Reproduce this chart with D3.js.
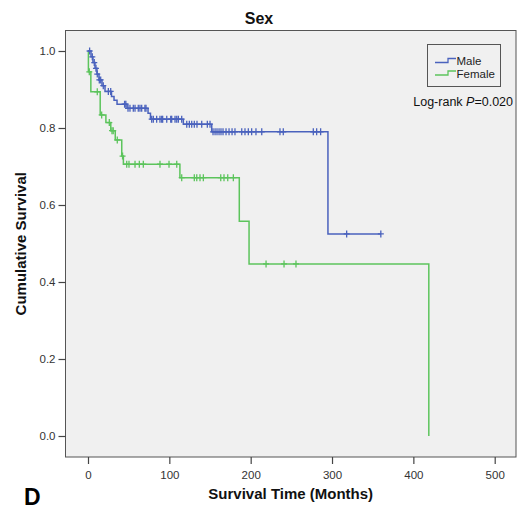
<!DOCTYPE html>
<html><head><meta charset="utf-8">
<script src="https://cdn.jsdelivr.net/npm/d3@7"></script>
<style>body{margin:0;background:#fff}svg{display:block;font-family:"Liberation Sans",Arial,sans-serif}</style>
</head><body><svg id="c" width="518" height="512"></svg>
<script>
const title = "Sex";
const xTicks = [0, 100, 200, 300, 400, 500];
const yTicks = [0.0, 0.2, 0.4, 0.6, 0.8, 1.0];
const groups = ["Male", "Female"];

// Male: step times (months) and survival after each step
const maleStepT = [3.7, 6.1, 8.6, 11, 13.5, 17.2, 20.9, 28.9, 32, 35.7, 48, 73.8, 76.8, 117.2, 152.1, 295];
const maleStepS = [0.985, 0.97, 0.955, 0.94, 0.925, 0.91, 0.895, 0.882, 0.872, 0.862, 0.851, 0.838, 0.823, 0.810, 0.790, 0.525];
const maleCensor = [2, 5.3, 7.7, 9.8, 11.4, 13.9, 15.6, 18.8, 25, 27.9,
  45, 46.5, 49.2, 51.6, 55.7, 57.8, 61.8, 63.9, 66, 70, 71.3,
  78.3, 80.3, 84.4, 88.5, 90.6, 91.8, 96.8, 101.7, 102.9, 107, 109.1, 111.1, 115.2,
  121.4, 124.6, 127.5, 130.7, 134, 139.8, 146.7, 150,
  153.7, 156.2, 158.6, 161.1, 163.5, 166, 169.7, 173.4, 177.1, 180.7, 189, 193, 197.1, 201.2, 206.5, 213.6, 236, 240.1, 277, 281.1, 286,
  318, 360];

// Female
const femaleStepT = [0.5, 3.5, 15, 22, 28, 33.5, 41.5, 43.5, 113, 186, 198, 419];
const femaleStepS = [0.946, 0.894, 0.834, 0.814, 0.793, 0.769, 0.727, 0.706, 0.671, 0.558, 0.447, 0.0];
const femaleCensor = [1.6, 11.4, 16.8, 26.2, 29.5, 31, 36, 42.5,
  47.6, 50.4, 57.8, 63.1, 68.0, 88.5, 99.6, 109.1,
  115.2, 130.7, 133.7, 137.7, 141.8, 163.2, 167.2, 171.8, 178.7,
  218.9, 241, 255.7];

const colors = {Male: "#4a62bd", Female: "#5cc45c"};

const svg = d3.select("#c");
const box = {l: 65.5, r: 516, t: 30.5, b: 457};
const x = d3.scaleLinear().domain([0, 500]).range([88, 494.7]);
const y = d3.scaleLinear().domain([0, 1]).range([436, 51]);

svg.append("rect").attr("x", box.l).attr("y", box.t).attr("width", box.r - box.l).attr("height", box.b - box.t)
  .attr("fill", "#f0f0f0").attr("stroke", "#555").attr("stroke-width", 1);

// axes
const gx = svg.append("g").attr("transform", `translate(0,${box.b})`)
  .call(d3.axisBottom(x).tickValues(xTicks).tickSize(7).tickSizeOuter(0).tickFormat(d3.format("d")));
gx.select(".domain").remove();
const gy = svg.append("g").attr("transform", `translate(${box.l},0)`)
  .call(d3.axisLeft(y).tickValues(yTicks).tickSize(7).tickSizeOuter(0).tickFormat(d3.format(".1f")));
gy.select(".domain").remove();
svg.selectAll(".tick line").attr("stroke", "#444").attr("stroke-width", 1.2);
svg.selectAll(".tick text").attr("fill", "#333").attr("font-size", 11.5).attr("font-family", "Liberation Sans, Arial, sans-serif");
gx.selectAll(".tick text").attr("dy", "1.0em");

function sAt(stepT, stepS, t) {
  let s = 1;
  for (let i = 0; i < stepT.length; i++) if (stepT[i] <= t) s = stepS[i];
  return s;
}
function drawCurve(stepT, stepS, censor, color) {
  const endT = Math.max(stepT[stepT.length - 1], d3.max(censor));
  const pts = [[0, 1]];
  let s = 1;
  stepT.forEach((t, i) => { pts.push([t, s]); s = stepS[i]; pts.push([t, s]); });
  pts.push([endT, s]);
  svg.append("path").attr("d", d3.line().x(d => x(d[0])).y(d => y(d[1]))(pts))
    .attr("fill", "none").attr("stroke", color).attr("stroke-width", 1.5);
  censor.forEach(t => {
    const cx = x(t), cy = y(sAt(stepT, stepS, t));
    svg.append("path").attr("d", `M${cx - 3},${cy}H${cx + 3}M${cx},${cy - 3.5}V${cy + 3.5}`)
      .attr("stroke", color).attr("stroke-width", 1.3).attr("fill", "none");
  });
}
drawCurve(femaleStepT, femaleStepS, femaleCensor, colors.Female);
drawCurve(maleStepT, maleStepS, maleCensor, colors.Male);

// legend
svg.append("rect").attr("x", 427.5).attr("y", 44.5).attr("width", 73).attr("height", 42)
  .attr("fill", "#f0f0f0").attr("stroke", "#555").attr("stroke-width", 1);
groups.forEach((g, i) => {
  const yy = 61.5 + i * 12.5;
  svg.append("path").attr("d", `M435,${yy + 1}H448V${yy - 3}H456`).attr("fill", "none")
    .attr("stroke", colors[g]).attr("stroke-width", 1.3);
  svg.append("text").attr("x", 456.5).attr("y", yy + 3.5).attr("font-size", 11.5).attr("fill", "#222").text(g);
});
const lr = svg.append("text").attr("x", 513).attr("y", 106).attr("text-anchor", "end").attr("font-size", 12.5).attr("fill", "#111");
lr.append("tspan").text("Log-rank ");
lr.append("tspan").attr("font-style", "italic").text("P");
lr.append("tspan").text("=0.020");

// titles
svg.append("text").attr("x", 259).attr("y", 24).attr("text-anchor", "middle").attr("font-weight", "bold").attr("font-size", 16).attr("fill", "#111").text(title);
svg.append("text").attr("x", (box.l + box.r) / 2).attr("y", 499).attr("text-anchor", "middle").attr("font-weight", "bold").attr("font-size", 15).attr("fill", "#111").text("Survival Time (Months)");
svg.append("text").attr("transform", `translate(26,${(box.t + box.b) / 2}) rotate(-90)`).attr("text-anchor", "middle").attr("font-weight", "bold").attr("font-size", 15).attr("fill", "#111").text("Cumulative Survival");
svg.append("text").attr("x", 24).attr("y", 505).attr("font-weight", "bold").attr("font-size", 23).attr("fill", "#000").text("D");
</script></body></html>
